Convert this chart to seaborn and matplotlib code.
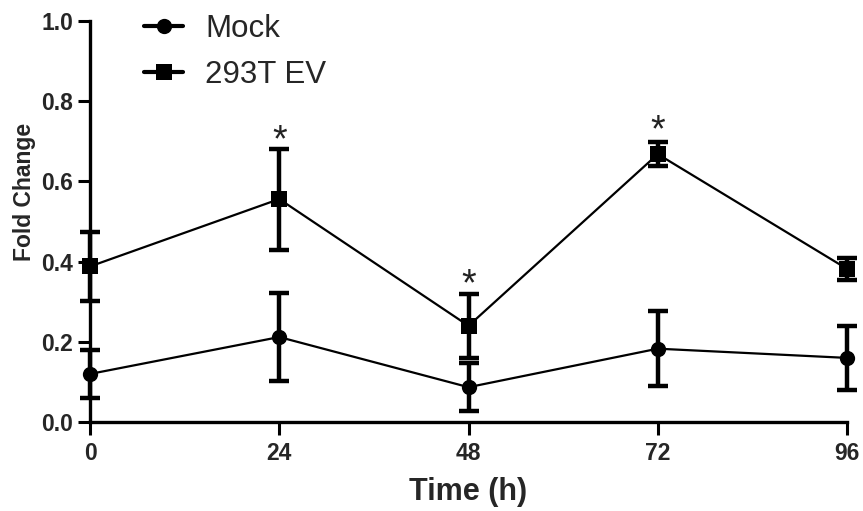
import matplotlib
matplotlib.use("Agg")
import matplotlib.pyplot as plt
import seaborn as sns
import pandas as pd
import numpy as np

time_h = [0, 24, 48, 72, 96]
mock_mean = [0.12, 0.212, 0.087, 0.183, 0.16]
mock_err = [0.06, 0.11, 0.06, 0.093, 0.079]
ev_mean = [0.388, 0.556, 0.24, 0.668, 0.382]
ev_err = [0.086, 0.126, 0.08, 0.03, 0.028]
series_names = ["Mock", "293T EV"]
star_times = [24, 48, 72]
star_y = [0.70, 0.34, 0.725]
x_ticks = [0, 24, 48, 72, 96]
y_ticks = [0.0, 0.2, 0.4, 0.6, 0.8, 1.0]

sns.set_theme(style="ticks")
plt.rcParams['font.family'] = ['Liberation Sans', 'DejaVu Sans']

df = pd.DataFrame({
    "Time": time_h * 2,
    "Fold": mock_mean + ev_mean,
    "Group": [series_names[0]] * 5 + [series_names[1]] * 5,
})

fig = plt.figure(figsize=(8.63, 5.11), dpi=100)
ax = fig.add_axes([0.1043, 0.174, 0.8772, 0.785])

sns.lineplot(data=df, x="Time", y="Fold", hue="Group", style="Group",
             markers={"Mock": "o", "293T EV": "s"}, dashes=False,
             palette={"Mock": "black", "293T EV": "black"},
             linewidth=1.6, markersize=11, markeredgewidth=0, ax=ax, zorder=3)

for m, e in [(mock_mean, mock_err), (ev_mean, ev_err)]:
    ax.errorbar(time_h, m, yerr=e, fmt="none", ecolor="black",
                elinewidth=3.2, capsize=7.2, capthick=3.2, zorder=4, clip_on=False)

for t, y in zip(star_times, star_y):
    ax.text(t, y, "*", ha="center", va="center", fontsize=27, color="#222222")

ax.set_xlim(0, 96)
ax.set_ylim(0, 1.0)
ax.set_xticks(x_ticks)
ax.set_yticks(y_ticks)
ax.set_yticklabels([f"{v:.1f}" for v in y_ticks])
ax.set_xlabel("Time (h)", fontsize=22, fontweight="bold", labelpad=9)
ax.set_ylabel("Fold Change", fontsize=16.5, fontweight="bold")
ax.yaxis.set_label_coords(-0.072, 0.574)
for lab in ax.get_xticklabels() + ax.get_yticklabels():
    lab.set_fontweight("bold")
    lab.set_fontsize(16.5)
ax.tick_params(axis="both", width=2.2, length=9, color="black", pad=3)
ax.tick_params(axis="x", pad=5)
for s in ["left", "bottom"]:
    ax.spines[s].set_linewidth(2.4)
    ax.spines[s].set_color("black")
sns.despine(ax=ax)
for line in ax.get_lines():
    line.set_clip_on(False)

leg = ax.legend(loc="upper left", bbox_to_anchor=(0.055, 1.048), frameon=False,
                fontsize=22.5, handlelength=1.25, handletextpad=0.7, labelspacing=0.5,
                borderaxespad=0.0)
for lh in leg.legend_handles:
    lh.set_linewidth(3)
    lh.set_markersize(11)

fig.savefig("out.png", dpi=100)
